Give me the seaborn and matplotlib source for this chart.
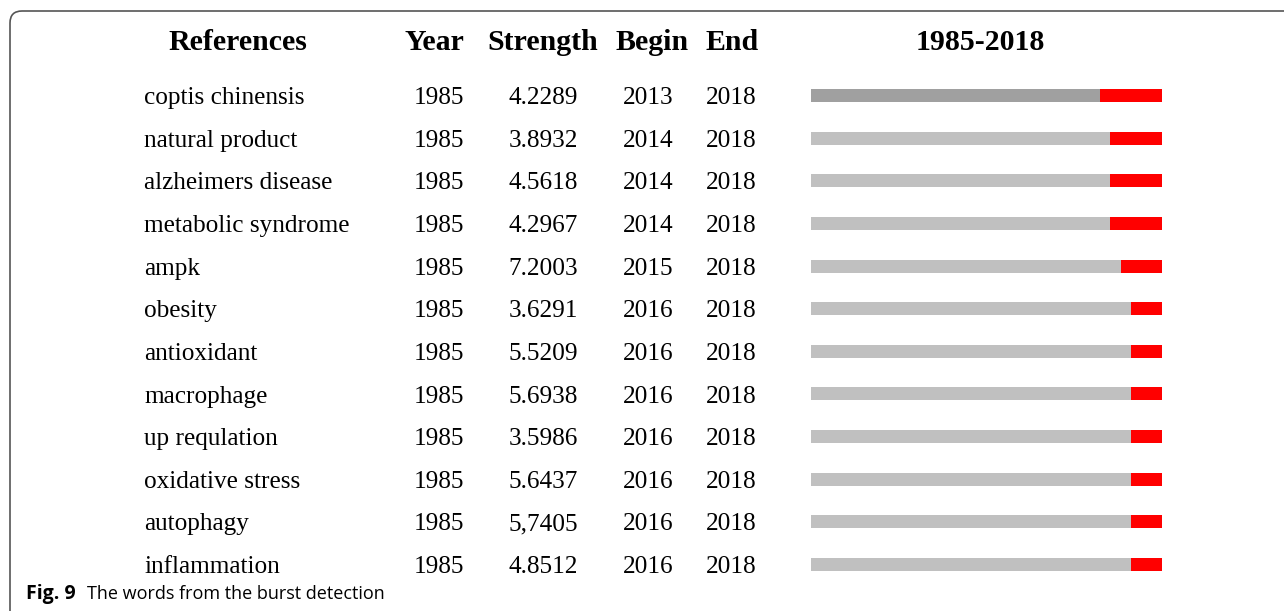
import seaborn as sns
import matplotlib.pyplot as plt
import pandas as pd
from matplotlib.patches import FancyBboxPatch

terms = ['coptis chinensis', 'natural product', 'alzheimers disease', 'metabolic syndrome',
         'ampk', 'obesity', 'antioxidant', 'macrophage', 'up requlation',
         'oxidative stress', 'autophagy', 'inflammation']
year = [1985] * 12
strength = ['4.2289', '3.8932', '4.5618', '4.2967', '7.2003', '3.6291',
            '5.5209', '5.6938', '3.5986', '5.6437', '5,7405', '4.8512']
begin = [2013, 2014, 2014, 2014, 2015, 2016, 2016, 2016, 2016, 2016, 2016, 2016]
end = [2018] * 12
span = [1985, 2018]

W, H = 1284, 611
serif = 'Liberation Serif'

fig = plt.figure(figsize=(W / 100, H / 100), dpi=100)

row_top, row_step = 95.5, 42.64
top_px = row_top - row_step / 2
bot_px = row_top + row_step * 11.5
ax_b = fig.add_axes([811 / W, 1 - bot_px / H, (1162 - 811) / W, (bot_px - top_px) / H])

df = pd.DataFrame({'term': terms, 'begin': begin, 'stop': [e + 1 for e in end]})
# red burst part underneath, gray part on top (bars start at 0, clipped at 1985)
sns.barplot(data=df, x='stop', y='term', orient='h', color='#ff0000', saturation=1,
            width=0.305, linewidth=0, ax=ax_b)
sns.barplot(data=df, x='begin', y='term', hue='term', orient='h', saturation=1,
            palette=['#a0a0a0'] + ['#c0c0c0'] * 11, legend=False,
            width=0.305, linewidth=0, ax=ax_b)
ax_b.set_xlim(span[0], span[1] + 1)
ax_b.axis('off')

# table text
ax_t = fig.add_axes([0, 1 - bot_px / H, 1, (bot_px - top_px) / H])
ax_t.set_xlim(0, W)
ax_t.set_ylim(11.5, -0.5)
ax_t.axis('off')

hy = (43 - row_top) / row_step
head = dict(fontsize=21.5, fontweight='bold', family=serif, ha='center', va='center')
ax_t.text(238, hy, 'References', **head)
ax_t.text(434, hy, 'Year', **head)
ax_t.text(543, hy, 'Strength', **head)
ax_t.text(652, hy, 'Begin', **head)
ax_t.text(732, hy, 'End', **head)
ax_t.text(980, hy, '%d-%d' % (span[0], span[1]), **head)

body = dict(fontsize=18.2, family=serif, va='center')
dy = 0.06
for i in range(len(terms)):
    ax_t.text(144, i + dy, terms[i], ha='left', **body)
    ax_t.text(439, i + dy, str(year[i]), ha='center', **body)
    ax_t.text(543, i + dy, strength[i], ha='center', **body)
    ax_t.text(648, i + dy, str(begin[i]), ha='center', **body)
    ax_t.text(731, i + dy, str(end[i]), ha='center', **body)

# frame with rounded corner
frame = FancyBboxPatch((0.10, -1.0), 14.0, 7.0, boxstyle='round,pad=0,rounding_size=0.12',
                       transform=fig.dpi_scale_trans, facecolor='none',
                       edgecolor='#555555', linewidth=1.2)
fig.patches.append(frame)

# caption
cap = fig.text(26 / W, 1 - 594 / H, 'Fig. 9', fontsize=14, fontweight='bold',
               family='Open Sans', va='center', ha='left')
ax_t.annotate('The words from the burst detection', xy=(1, 0.5), xycoords=cap,
              xytext=(8, 0), textcoords='offset points',
              fontsize=13, family='Open Sans', va='center', ha='left',
              annotation_clip=False)

plt.savefig('out.png', dpi=100)
